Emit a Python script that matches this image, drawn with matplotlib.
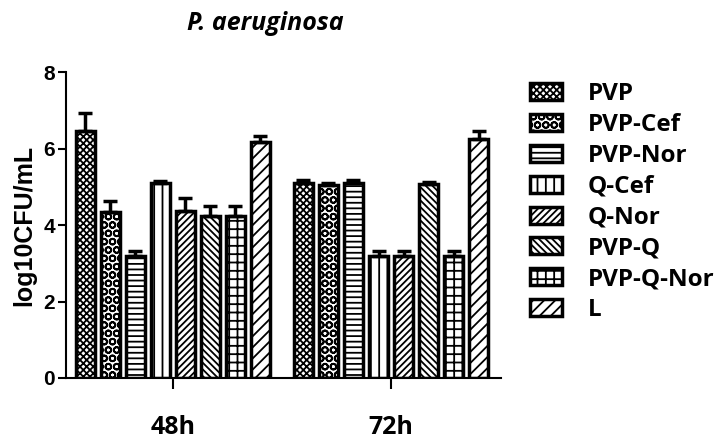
import matplotlib
matplotlib.use("Agg")
import matplotlib.pyplot as plt
import numpy as np
from matplotlib.patches import Patch

groups = ["48h", "72h"]
series = ["PVP", "PVP-Cef", "PVP-Nor", "Q-Cef", "Q-Nor", "PVP-Q", "PVP-Q-Nor", "L"]
values_48h = [6.45, 4.33, 3.18, 5.10, 4.37, 4.25, 4.25, 6.17]
errors_48h = [0.47, 0.30, 0.15, 0.04, 0.35, 0.25, 0.25, 0.15]
values_72h = [5.10, 5.05, 5.10, 3.18, 3.18, 5.08, 3.18, 6.25]
errors_72h = [0.08, 0.05, 0.07, 0.15, 0.15, 0.05, 0.15, 0.22]
hatches = ["xxxxx", "OO", "---", "||", "/////", "\\\\\\\\\\", "++", "///"]

plt.rcParams['hatch.linewidth'] = 1.3
fig = plt.figure(figsize=(7.18, 4.40), dpi=100)
ax = fig.add_axes([0.092, 0.141, 0.606, 0.695])

pitch = 0.1147
width = 0.087
x = np.arange(len(groups))
for i, name in enumerate(series):
    vals = [values_48h[i], values_72h[i]]
    errs = [errors_48h[i], errors_72h[i]]
    pos = x + (i - 3.5) * pitch
    ax.bar(pos, vals, width=width, facecolor="white", edgecolor="black",
           linewidth=2.5, hatch=hatches[i], zorder=2)
    ax.errorbar(pos, vals, yerr=[np.zeros(2), errs], fmt="none", ecolor="black",
                elinewidth=2.5, capsize=5, capthick=2.5, zorder=3)

ax.set_xlim(-0.49, 1.505)
ax.set_ylim(0, 8)
ax.set_yticks([0, 2, 4, 6, 8])
ax.set_xticks(x)
ax.set_xticklabels(groups, fontsize=18, fontweight="bold", family="Open Sans")
ax.tick_params(axis="x", length=8, width=1.5, pad=19)
ax.tick_params(axis="y", length=6, width=1.5, labelsize=15, pad=2)
for lab in ax.get_yticklabels():
    lab.set_fontweight("bold")
    lab.set_family("Liberation Sans")
for s in ["top", "right"]:
    ax.spines[s].set_visible(False)
for s in ["left", "bottom"]:
    ax.spines[s].set_linewidth(1.5)
ax.set_ylabel("log10CFU/mL", fontsize=18, fontweight="bold", family="Liberation Sans", labelpad=5)

fig.text(0.369, 0.946, "P. aeruginosa", fontsize=18, fontweight="bold", style="italic",
         family="Open Sans", ha="center", va="center")

handles = [Patch(facecolor="white", edgecolor="black", linewidth=2.5, hatch=h) for h in hatches]
leg = fig.legend(handles, series, loc="upper left", bbox_to_anchor=(0.738, 0.814),
                 frameon=False, prop={"family": "Open Sans", "weight": "bold", "size": 17.5},
                 handlelength=1.32, handleheight=0.7, handletextpad=1.07, labelspacing=0.285,
                 borderpad=0, borderaxespad=0)

fig.savefig("out.png", dpi=100)
